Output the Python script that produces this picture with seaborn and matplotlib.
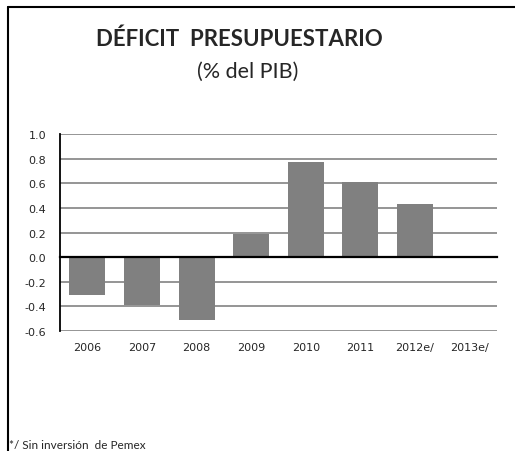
import numpy as np
import pandas as pd
import matplotlib
matplotlib.use("Agg")
import matplotlib.pyplot as plt
from matplotlib.lines import Line2D
import seaborn as sns

# data
years = ["2006", "2007", "2008", "2009", "2010", "2011", "2012e/", "2013e/"]
deficit = [-0.31, -0.39, -0.51, 0.19, 0.77, 0.61, 0.43, np.nan]
y_ticks = [-0.6, -0.4, -0.2, 0.0, 0.2, 0.4, 0.6, 0.8, 1.0]

sns.set_style("white")
plt.rcParams["font.family"] = ["DejaVu Sans"]

frame = pd.DataFrame({"year": years, "deficit": deficit}).dropna()

fig = plt.figure(figsize=(5.15, 4.52), dpi=100)
ax = fig.add_axes([0.1165, 0.2655, 0.8485, 0.4358])

sns.barplot(data=frame, x="year", y="deficit", order=years, color="#808080",
            saturation=1, width=0.66, linewidth=0, ax=ax, zorder=3)

ax.set_ylim(-0.6, 1.0)
ax.set_xlim(-0.5, len(years) - 0.5)
ax.set_yticks(y_ticks)
ax.set_yticklabels(["%.1f" % v for v in y_ticks], fontsize=8, family="DejaVu Sans")
for v in y_ticks:
    ax.axhline(v, color="#8c8c8c", lw=1.3, zorder=1)

ax.set_xlabel("")
ax.set_ylabel("")

# x axis sits on zero, labels at the bottom
for s in ["top", "right"]:
    ax.spines[s].set_visible(False)
ax.spines["left"].set_color("black")
ax.spines["left"].set_linewidth(1.3)
ax.spines["bottom"].set_position(("data", 0))
ax.spines["bottom"].set_color("black")
ax.spines["bottom"].set_linewidth(1.6)
ax.spines["bottom"].set_zorder(4)
ax.set_xticks(np.arange(len(years)))
ax.set_xticklabels(years, fontsize=8, family="DejaVu Sans")
ax.set_xticks(np.arange(-0.5, len(years)), minor=True)
ax.tick_params(axis="x", which="major", length=0, pad=61)
ax.tick_params(axis="x", which="minor", length=4, width=1.2, direction="out", color="black")
ax.tick_params(axis="y", length=0, pad=10)

# titles and note
fig.text(0.465, 0.913, "DÉFICIT  PRESUPUESTARIO", ha="center", va="center",
         fontsize=16, fontweight="bold", family=["Lato", "DejaVu Sans"])
fig.text(0.48, 0.84, "(% del PIB)", ha="center", va="center",
         fontsize=15.5, family=["Lato", "DejaVu Sans"])
fig.text(0.018, 0.015, "*/ Sin inversión  de Pemex", ha="left", va="center",
         fontsize=8.5, family=["Lato", "DejaVu Sans"])

# outer frame
fig.add_artist(Line2D([7.5 / 515, 1], [1 - 8 / 452, 1 - 8 / 452], color="black", lw=1.5))
fig.add_artist(Line2D([7.5 / 515, 7.5 / 515], [0, 1 - 8 / 452], color="black", lw=1.5))

fig.savefig("out.png", dpi=100)
